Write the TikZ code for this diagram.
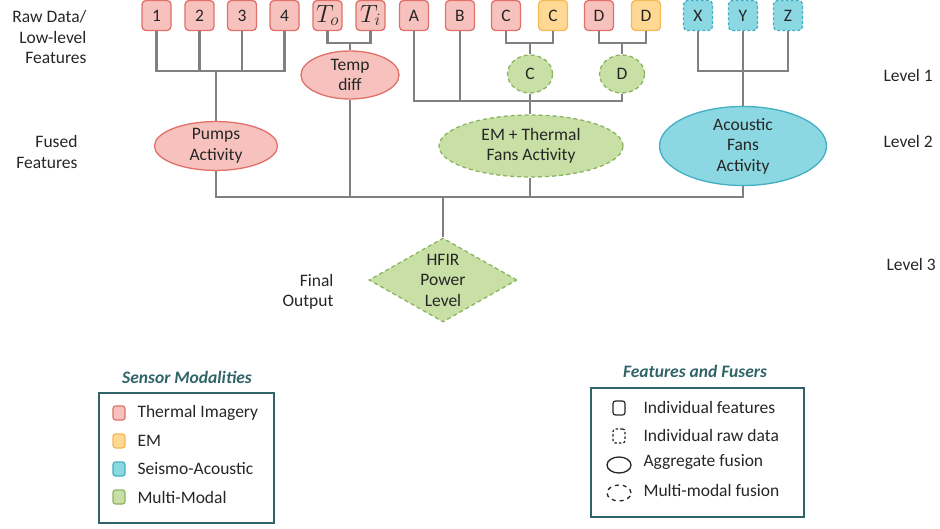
\documentclass[tikz,border=0pt]{standalone}
\usepackage{fontspec}
\setmainfont{Carlito}
\usetikzlibrary{shapes.geometric}
\definecolor{redfill}{RGB}{247,194,189}
\definecolor{reddraw}{RGB}{224,112,104}
\definecolor{orfill}{RGB}{255,217,148}
\definecolor{ordraw}{RGB}{244,184,86}
\definecolor{cyfill}{RGB}{139,216,227}
\definecolor{cydraw}{RGB}{66,175,195}
\definecolor{grfill}{RGB}{200,224,165}
\definecolor{grdraw}{RGB}{140,180,95}
\definecolor{conncol}{RGB}{128,128,128}
\definecolor{teal}{RGB}{48,100,104}
\definecolor{txt}{RGB}{38,38,38}
\tikzset{
  every node/.style={font=\fontsize{17.5}{20.5}\selectfont, text=txt},
  featbox/.style={draw, rounded corners=4pt, line width=1.3pt, minimum width=29pt, minimum height=30pt, inner sep=0pt},
  redbox/.style={featbox, fill=redfill, draw=reddraw},
  orbox/.style={featbox, fill=orfill, draw=ordraw},
  cybox/.style={featbox, fill=cyfill, draw=cydraw, dash pattern=on 3pt off 2pt},
  fuse/.style={ellipse, draw, line width=1.3pt, inner sep=0pt, align=center},
  mmdash/.style={dash pattern=on 4pt off 3pt},
  conn/.style={draw=conncol, line width=2.4pt},
  lbl/.style={align=right, anchor=east},
  legtitle/.style={font=\fontsize{17.5}{20.5}\selectfont\bfseries\itshape, text=teal},
  legbox/.style={draw=teal, line width=1.8pt},
  legtxt/.style={anchor=west},
  swatch/.style={draw, rounded corners=2.5pt, line width=1.2pt, minimum width=12pt, minimum height=14pt, inner sep=0pt},
}
\begin{document}
\begin{tikzpicture}[x=1pt, y=-1pt]
\useasboundingbox (0,0) rectangle (940,529);

% labels
\node[lbl] (rawlbl) at (90,37) {Raw Data/\\Low-level\\Features};
\node[lbl] (fusedlbl) at (81,152) {Fused\\Features};
\node[lbl] (finallbl) at (337,292) {Final\\Output};
\node[anchor=west] (lev1) at (880,75) {Level 1};
\node[anchor=west] (lev2) at (880,141) {Level 2};
\node[anchor=west] (lev3) at (883,264) {Level 3};

% top boxes
\node[redbox] (n1) at (156.5,15.5) {1};
\node[redbox] (n2) at (199.5,15.5) {2};
\node[redbox] (n3) at (242,15.5) {3};
\node[redbox] (n4) at (284.5,15.5) {4};
\node[redbox, font=\fontsize{24}{28}\selectfont] (to) at (327.5,15.5) {$T_o$};
\node[redbox, font=\fontsize{24}{28}\selectfont] (ti) at (370.5,15.5) {$T_i$};
\node[redbox] (na) at (414,15.5) {A};
\node[redbox] (nb) at (460,15.5) {B};
\node[redbox] (cr) at (506,15.5) {C};
\node[orbox] (co) at (553,15.5) {C};
\node[redbox] (dr) at (599,15.5) {D};
\node[orbox] (do) at (646,15.5) {D};
\node[cybox] (nx) at (698,15.5) {X};
\node[cybox] (ny) at (743,15.5) {Y};
\node[cybox] (nz) at (788,15.5) {Z};

% fusers
\node[fuse, fill=redfill, draw=reddraw, minimum width=123pt, minimum height=48pt] (pumps) at (216,146) {Pumps\\Activity};
\node[fuse, fill=redfill, draw=reddraw, minimum width=98pt, minimum height=48pt] (tdiff) at (350,75) {Temp\\diff};
\node[fuse, mmdash, fill=grfill, draw=grdraw, minimum width=45pt, minimum height=38pt] (cf) at (530,74) {C};
\node[fuse, mmdash, fill=grfill, draw=grdraw, minimum width=45pt, minimum height=38pt] (df) at (622,74) {D};
\node[fuse, mmdash, fill=grfill, draw=grdraw, minimum width=184pt, minimum height=62pt] (em) at (531,146) {EM + Thermal\\Fans Activity};
\node[fuse, fill=cyfill, draw=cydraw, minimum width=167pt, minimum height=64pt] (acou) at (743,146) {Acoustic\\Fans\\Activity};
\node[diamond, draw=grdraw, fill=grfill, mmdash, line width=1.3pt, inner sep=0pt, aspect=1.76, minimum width=148pt, minimum height=84pt, align=center] (hfir) at (443,280) {HFIR\\Power\\Level};

% junctions
\coordinate (j1) at (216,71);
\coordinate (jt) at (350,43);
\coordinate (jc) at (530,43);
\coordinate (jd) at (622,43);
\coordinate (ja) at (530,101);
\coordinate (jx) at (743,71);
\coordinate (jb) at (443,197);

% connectors
\draw[conn] (n1.south) |- (j1) -| (n4.south);
\draw[conn] (n2.south) -- (n2.south |- j1);
\draw[conn] (n3.south) -- (n3.south |- j1);
\draw[conn] (j1) -- (pumps.north);

\draw[conn] (to.south) |- (jt) -| (ti.south);
\draw[conn] (jt) -- (tdiff.north);

\draw[conn] (cr.south) |- (jc) -| (co.south);
\draw[conn] (jc) -- (cf.north);
\draw[conn] (dr.south) |- (jd) -| (do.south);
\draw[conn] (jd) -- (df.north);

\draw[conn] (na.south) |- (ja) -| (df.south);
\draw[conn] (nb.south) -- (nb.south |- ja);
\draw[conn] (cf.south) -- (ja);
\draw[conn] (ja) -- (ja |- em.north);

\draw[conn] (nx.south) |- (jx) -| (nz.south);
\draw[conn] (ny.south) -- (acou.north);

\draw[conn] (pumps.south) |- (jb) -| (acou.south);
\draw[conn] (tdiff.south) -- (tdiff.south |- jb);
\draw[conn] (ja |- em.south) -- (ja |- jb);
\draw[conn] (jb) -- (hfir.north);

% legend 1
\node[legtitle] (lt1) at (187,377) {Sensor Modalities};
\draw[legbox] (99,393) rectangle (274,523);
\node[swatch, fill=redfill, draw=reddraw] (s1) at (119,413) {};
\node[swatch, fill=orfill, draw=ordraw] (s2) at (119,441) {};
\node[swatch, fill=cyfill, draw=cydraw] (s3) at (119,469) {};
\node[swatch, fill=grfill, draw=grdraw] (s4) at (119,497) {};
\node[legtxt] (t1) at (134,413) {Thermal Imagery};
\node[legtxt] (t2) at (134,441) {EM};
\node[legtxt] (t3) at (134,469) {Seismo-Acoustic};
\node[legtxt] (t4) at (134,497) {Multi-Modal};

% legend 2
\node[legtitle] (lt2) at (695,371) {Features and Fusers};
\draw[legbox] (591,388) rectangle (804,517);
\node[swatch, draw=black!85, line width=1.2pt] (i1) at (619,408) {};
\node[swatch, draw=black!85, line width=1.2pt, dash pattern=on 2.5pt off 2pt] (i2) at (619,436) {};
\node[ellipse, draw=black!85, line width=1.3pt, minimum width=24pt, minimum height=16pt, inner sep=0pt] (i3) at (619,465) {};
\node[ellipse, draw=black!85, line width=1.3pt, minimum width=24pt, minimum height=16pt, inner sep=0pt, dash pattern=on 4pt off 4pt] (i4) at (619,493) {};
\node[legtxt] (u1) at (640,407) {Individual features};
\node[legtxt] (u2) at (640,435) {Individual raw data};
\node[legtxt] (u3) at (640,462) {Aggregate fusion};
\node[legtxt] (u4) at (640,490) {Multi-modal fusion};
\end{tikzpicture}
\end{document}
